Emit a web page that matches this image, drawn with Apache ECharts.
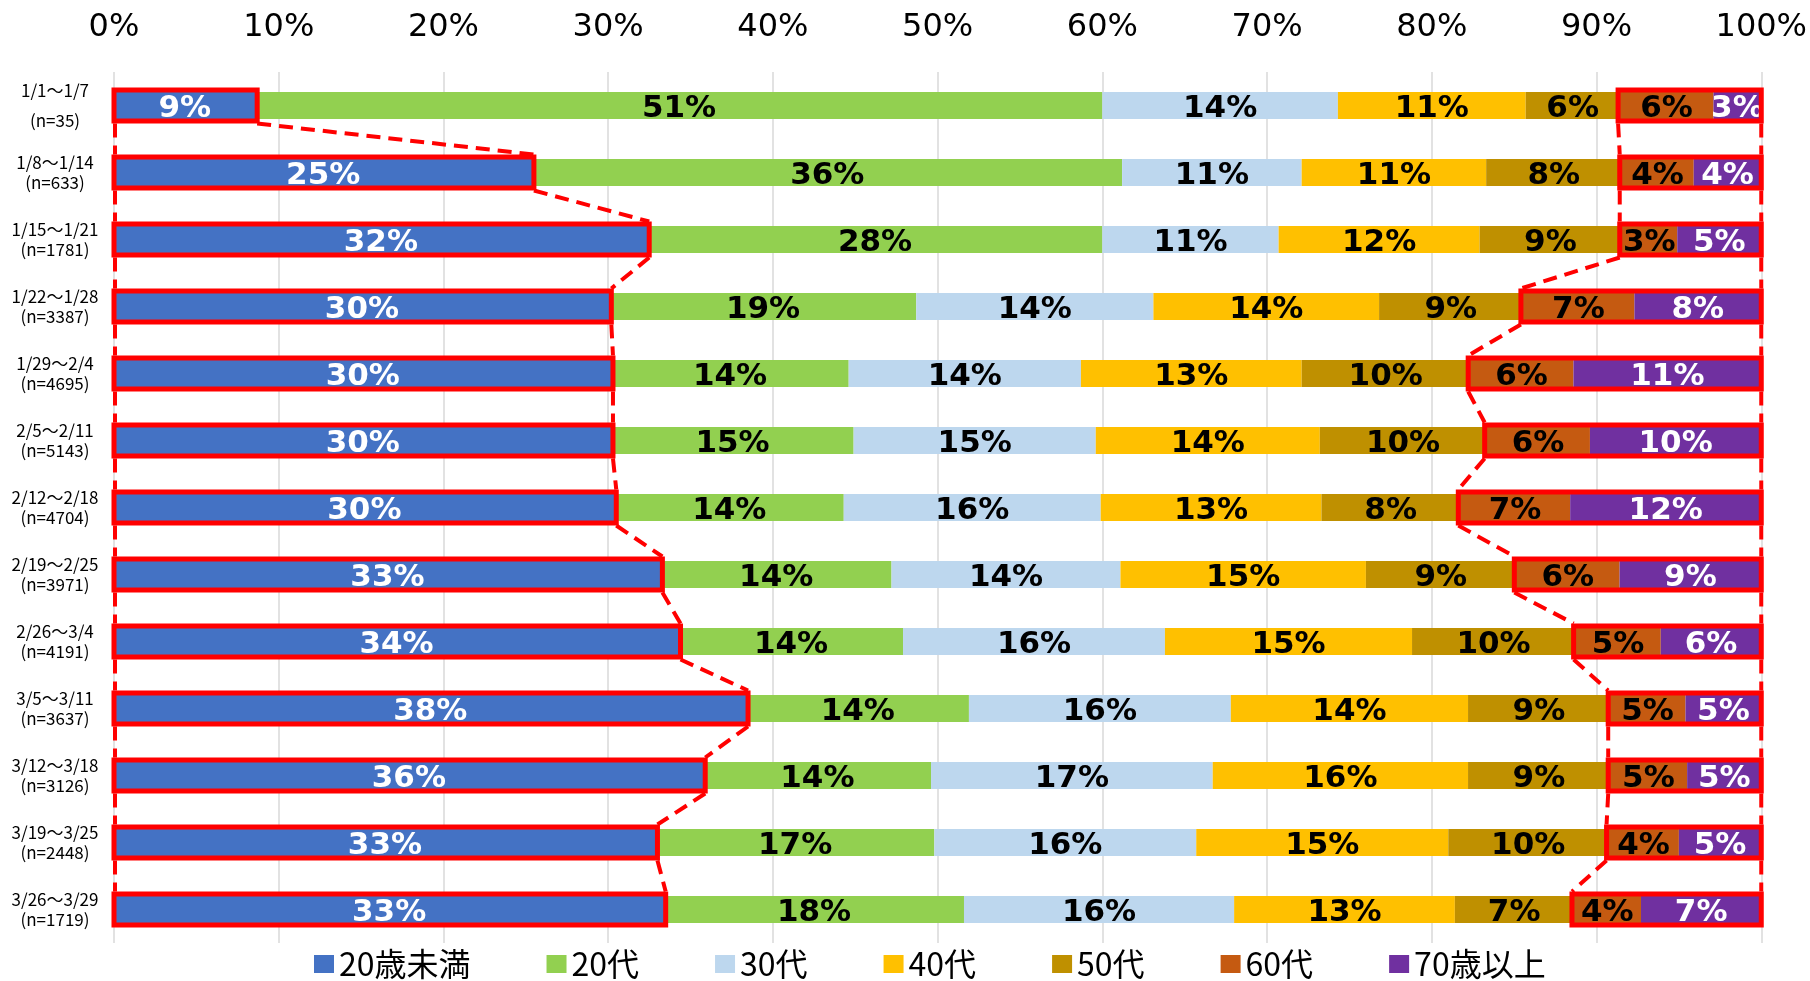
<!DOCTYPE html>
<html>
<head>
<meta charset="utf-8">
<script src="https://cdn.jsdelivr.net/npm/echarts@6/dist/echarts.min.js"></script>
<style>html,body{margin:0;padding:0;background:#fff;}#chart{width:1810px;height:981px;}</style>
</head>
<body>
<div id="chart"></div>
<script>
const periods = ['1/1～1/7','1/8～1/14','1/15～1/21','1/22～1/28','1/29～2/4','2/5～2/11','2/12～2/18','2/19～2/25','2/26～3/4','3/5～3/11','3/12～3/18','3/19～3/25','3/26～3/29'];
const sampleSizes = [35,633,1781,3387,4695,5143,4704,3971,4191,3637,3126,2448,1719];
const groupNames = ['20歳未満','20代','30代','40代','50代','60代','70歳以上'];
const under20  = [8.6,25.4,32.4,30.1,30.2,30.2,30.4,33.2,34.3,38.4,35.8,32.9,33.4];
const age20s   = [51.4,35.8,27.6,18.6,14.4,14.7,13.9,14.0,13.6,13.5,13.8,16.9,18.2];
const age30s   = [14.3,10.9,10.7,14.4,14.1,14.7,15.6,13.9,15.9,15.9,17.1,15.9,16.4];
const age40s   = [11.4,11.2,12.2,13.7,13.4,13.6,13.4,14.9,15.0,14.4,15.5,15.3,13.4];
const age50s   = [5.7,8.2,8.6,8.7,10.2,10.1,8.4,9.1,9.9,8.6,8.6,9.7,7.2];
const age60s   = [5.7,4.4,3.4,6.8,6.3,6.3,6.7,6.3,5.2,4.6,4.7,4.3,4.1];
const age70plus= [2.9,4.1,5.1,7.7,11.4,10.4,11.6,8.6,6.1,4.6,4.5,5.0,7.3];
const xTicks = [0,10,20,30,40,50,60,70,80,90,100];

const seriesData = [under20, age20s, age30s, age40s, age50s, age60s, age70plus];
const colors = ['#4472C4','#92D050','#BDD7EE','#FFC000','#BF9000','#C55A11','#7030A0'];
const labelColors = ['#fff','#000','#000','#000','#000','#000','#fff'];
const BAR_H = 27;

const chart = echarts.init(document.getElementById('chart'));

const barSeries = seriesData.map((d, k) => ({
  name: groupNames[k],
  type: 'bar',
  stack: 'total',
  barWidth: BAR_H,
  data: d,
  itemStyle: { color: colors[k] },
  label: {
    show: true,
    position: 'inside',
    offset: [0, 3],
    formatter: p => Math.round(p.value) + '%',
    color: labelColors[k],
    fontFamily: 'DejaVu Sans',
    fontWeight: 'bold',
    fontSize: 31
  },
  emphasis: { disabled: true }
}));

function blueEnd(i) { return under20[i]; }
function rightStart(i) { return under20[i] + age20s[i] + age30s[i] + age40s[i] + age50s[i]; }

const boxSeries = {
  type: 'custom',
  z: 10,
  silent: true,
  clip: false,
  data: periods.map((p, i) => [0, i]),
  encode: { x: 0, y: 1 },
  renderItem: function (params, api) {
    const i = params.dataIndex;
    const n = periods.length;
    const yc = api.coord([0, i])[1];
    const x0 = api.coord([0, i])[0];
    const xb = api.coord([blueEnd(i), i])[0];
    const xr = api.coord([rightStart(i), i])[0];
    const x100 = api.coord([100, i])[0];
    const top = yc - BAR_H / 2 - 2, bot = yc + BAR_H / 2 + 2;
    const boxStyle = { fill: null, stroke: '#FF0000', lineWidth: 5 };
    const children = [
      { type: 'rect', shape: { x: x0, y: top, width: xb - x0 + 1.5, height: bot - top }, style: boxStyle },
      { type: 'rect', shape: { x: xr - 1.5, y: top, width: x100 - xr + 1.5, height: bot - top }, style: boxStyle }
    ];
    if (i < n - 1) {
      const yc2 = api.coord([0, i + 1])[1];
      const y1 = bot + 2.5, y2 = yc2 - BAR_H / 2 - 4.5;
      const xb2 = api.coord([blueEnd(i + 1), i + 1])[0];
      const xr2 = api.coord([rightStart(i + 1), i + 1])[0];
      const ds = { stroke: '#FF0000', lineWidth: 4, lineDash: [14, 8] };
      children.push(
        { type: 'line', shape: { x1: x0 + 1, y1: y1, x2: x0 + 1, y2: y2 }, style: ds },
        { type: 'line', shape: { x1: xb + 1.5, y1: y1, x2: xb2 + 1.5, y2: y2 }, style: ds },
        { type: 'line', shape: { x1: xr - 1.5, y1: y1, x2: xr2 - 1.5, y2: y2 }, style: ds },
        { type: 'line', shape: { x1: x100, y1: y1, x2: x100, y2: y2 }, style: ds }
      );
    }
    return { type: 'group', children: children };
  }
};

chart.setOption({
  animation: false,
  color: colors,
  grid: { left: 114, right: 48, top: 72, bottom: 38, containLabel: false },
  legend: {
    data: groupNames,
    left: 314,
    top: 947,
    icon: 'rect',
    itemWidth: 20,
    itemHeight: 18,
    itemGap: 76,
    padding: 0,
    textStyle: { fontFamily: 'Noto Sans CJK JP', fontSize: 32, lineHeight: 34, color: '#000' }
  },
  xAxis: {
    type: 'value',
    position: 'top',
    min: xTicks[0],
    max: xTicks[xTicks.length - 1],
    interval: xTicks[1] - xTicks[0],
    axisLine: { show: false },
    axisTick: { show: false },
    splitLine: { show: true, lineStyle: { color: '#D9D9D9', width: 1.5 } },
    axisLabel: {
      formatter: '{value}%',
      fontFamily: 'DejaVu Sans',
      fontSize: 32,
      color: '#000',
      margin: 28
    }
  },
  yAxis: {
    type: 'category',
    inverse: true,
    data: periods,
    axisLine: { show: false },
    axisTick: { show: false },
    axisLabel: {
      align: 'center',
      margin: 59,
      formatter: function (v, idx) {
        const s = '(n=' + sampleSizes[idx] + ')';
        return idx === 0 ? '{f|' + v + '}\n{f|' + s + '}' : '{o|' + v + '}\n{o|' + s + '}';
      },
      rich: {
        f: { fontFamily: 'Noto Sans CJK JP', fontSize: 17, lineHeight: 30, color: '#000' },
        o: { fontFamily: 'Noto Sans CJK JP', fontSize: 17, lineHeight: 20, color: '#000' }
      }
    }
  },
  series: barSeries.concat([boxSeries])
});
</script>
</body>
</html>
